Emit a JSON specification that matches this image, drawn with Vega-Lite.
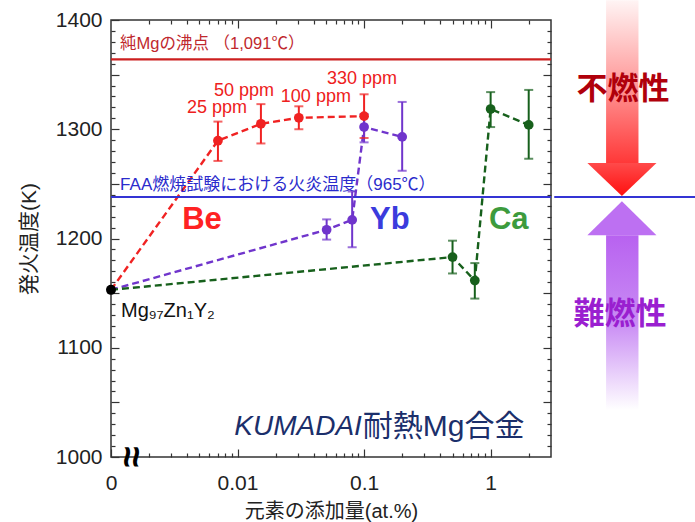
{
  "$schema": "https://vega.github.io/schema/vega-lite/v6.json",
  "padding": {"left": 17, "top": 0, "right": 0, "bottom": 0},
  "background": "white",
  "spacing": 0,
  "config": {
    "font": "'Liberation Sans', 'Noto Sans CJK JP', sans-serif",
    "view": {"stroke": null},
    "concat": {"spacing": 0}
  },
  "datasets": {
    "pts": [
      {"series": "Be", "x": 0.007, "y": 1289.5, "lo": 1271, "hi": 1307},
      {"series": "Be", "x": 0.0153, "y": 1305, "lo": 1287, "hi": 1323},
      {"series": "Be", "x": 0.0305, "y": 1310.5, "lo": 1300, "hi": 1321},
      {"series": "Be", "x": 0.1, "y": 1312, "lo": 1292, "hi": 1332},
      {"series": "Yb", "x": 0.0506, "y": 1208, "lo": 1199, "hi": 1217.5},
      {"series": "Yb", "x": 0.0805, "y": 1217, "lo": 1192, "hi": 1243},
      {"series": "Yb", "x": 0.1, "y": 1302, "lo": 1288, "hi": 1314},
      {"series": "Yb", "x": 0.2, "y": 1293, "lo": 1262, "hi": 1325},
      {"series": "Ca", "x": 0.5, "y": 1183, "lo": 1168, "hi": 1198},
      {"series": "Ca", "x": 0.75, "y": 1161.5, "lo": 1145, "hi": 1177.5},
      {"series": "Ca", "x": 1, "y": 1318.5, "lo": 1302, "hi": 1334},
      {"series": "Ca", "x": 2, "y": 1304, "lo": 1273, "hi": 1336}
    ],
    "lines": [
      {"series": "Be", "x": 0.001, "y": 1153},
      {"series": "Be", "x": 0.007, "y": 1289.5},
      {"series": "Be", "x": 0.0153, "y": 1305},
      {"series": "Be", "x": 0.0305, "y": 1310.5},
      {"series": "Be", "x": 0.1, "y": 1312},
      {"series": "Yb", "x": 0.001, "y": 1153},
      {"series": "Yb", "x": 0.0506, "y": 1208},
      {"series": "Yb", "x": 0.0805, "y": 1217},
      {"series": "Yb", "x": 0.1, "y": 1302},
      {"series": "Yb", "x": 0.2, "y": 1293},
      {"series": "Ca", "x": 0.001, "y": 1153},
      {"series": "Ca", "x": 0.5, "y": 1183},
      {"series": "Ca", "x": 0.75, "y": 1161.5},
      {"series": "Ca", "x": 1, "y": 1318.5},
      {"series": "Ca", "x": 2, "y": 1304}
    ],
    "base": [{"x": 0.001, "y": 1153, "label": "Mg₉₇Zn₁Y₂"}]
  },
  "hconcat": [
    {
      "width": 440,
      "height": 437,
      "view": {"stroke": "#333", "strokeWidth": 1.5},
      "resolve": {"axis": {"x": "independent", "y": "independent"}},
      "layer": [
        {
          "data": {"name": "lines"},
          "mark": {"type": "line", "strokeWidth": 2.4, "strokeDash": [7, 4]},
          "encoding": {
            "x": {
              "field": "x", "type": "quantitative",
              "scale": {"type": "log", "domain": [0.001, 3], "nice": false},
              "axis": {
                "orient": "bottom",
                "values": [0.001, 0.002, 0.003, 0.004, 0.005, 0.006, 0.007, 0.008, 0.009, 0.01, 0.02, 0.03, 0.04, 0.05, 0.06, 0.07, 0.08, 0.09, 0.1, 0.2, 0.3, 0.4, 0.5, 0.6, 0.7, 0.8, 0.9, 1, 2],
                "labelExpr": "datum.value == 0.001 ? '0' : datum.value == 0.01 ? '0.01' : datum.value == 0.1 ? '0.1' : datum.value == 1 ? '1' : ''",
                "tickSize": {"condition": {"test": "datum.value == 0.001 || datum.value == 0.01 || datum.value == 0.1 || datum.value == 1", "value": -8}, "value": -4},
                "tickColor": "#333", "tickWidth": 1.2,
                "domain": false, "grid": false,
                "labelFontSize": 21, "labelColor": "#222", "labelPadding": 23,
                "labelFlush": false, "labelOverlap": false,
                "title": "元素の添加量(at.%)", "titleFontSize": 20, "titleFontWeight": "normal", "titleColor": "#222", "titlePadding": 4
              }
            },
            "y": {
              "field": "y", "type": "quantitative",
              "scale": {"domain": [1000, 1400], "nice": false, "zero": false},
              "axis": {
                "orient": "left",
                "values": [1000, 1010, 1020, 1030, 1040, 1050, 1060, 1070, 1080, 1090, 1100, 1110, 1120, 1130, 1140, 1150, 1160, 1170, 1180, 1190, 1200, 1210, 1220, 1230, 1240, 1250, 1260, 1270, 1280, 1290, 1300, 1310, 1320, 1330, 1340, 1350, 1360, 1370, 1380, 1390, 1400],
                "labelExpr": "datum.value % 100 == 0 ? '' + datum.value : ''",
                "tickSize": {"condition": {"test": "datum.value % 50 == 0", "value": -8}, "value": -4},
                "tickColor": "#333", "tickWidth": 1.2,
                "domain": false, "grid": false,
                "labelFontSize": 21, "labelColor": "#222", "labelPadding": 17, "labelOverlap": false, "labelFlush": false,
                "title": "発火温度(K)", "titleFontSize": 21, "titleFontWeight": "normal", "titleColor": "#222", "titlePadding": 16
              }
            },
            "color": {"field": "series", "type": "nominal", "scale": {"domain": ["Be", "Yb", "Ca"], "range": ["#f02222", "#7035cc", "#17601c"]}, "legend": null},
            "detail": {"field": "series"}
          }
        },
        {
          "data": {"name": "base"},
          "mark": {"type": "point", "opacity": 0},
          "encoding": {
            "x": {
              "field": "x", "type": "quantitative",
              "scale": {"type": "log", "domain": [0.001, 3], "nice": false},
              "axis": {
                "orient": "top",
                "values": [0.002, 0.003, 0.004, 0.005, 0.006, 0.007, 0.008, 0.009, 0.01, 0.02, 0.03, 0.04, 0.05, 0.06, 0.07, 0.08, 0.09, 0.1, 0.2, 0.3, 0.4, 0.5, 0.6, 0.7, 0.8, 0.9, 1, 2],
                "labels": false, "title": null, "domain": false, "grid": false,
                "tickSize": {"condition": {"test": "datum.value == 0.01 || datum.value == 0.1 || datum.value == 1", "value": -8}, "value": -4},
                "tickColor": "#333", "tickWidth": 1.2
              }
            },
            "y": {
              "field": "y", "type": "quantitative",
              "scale": {"domain": [1000, 1400], "nice": false, "zero": false},
              "axis": {
                "orient": "right",
                "values": [1010, 1020, 1030, 1040, 1050, 1060, 1070, 1080, 1090, 1100, 1110, 1120, 1130, 1140, 1150, 1160, 1170, 1180, 1190, 1200, 1210, 1220, 1230, 1240, 1250, 1260, 1270, 1280, 1290, 1300, 1310, 1320, 1330, 1340, 1350, 1360, 1370, 1380, 1390],
                "labels": false, "title": null, "domain": false, "grid": false,
                "tickSize": {"condition": {"test": "datum.value % 50 == 0", "value": -8}, "value": -4},
                "tickColor": "#333", "tickWidth": 1.2
              }
            }
          }
        },
        {
          "data": {"values": [{"y": 1364}]},
          "mark": {"type": "rule", "color": "#cc1f1f", "strokeWidth": 2.2},
          "encoding": {
            "y": {"field": "y", "type": "quantitative", "scale": {"domain": [1000, 1400], "nice": false, "zero": false}, "axis": null}
          }
        },
        {
          "data": {"values": [{"y": 1238}]},
          "mark": {"type": "rule", "color": "#3434d4", "strokeWidth": 2},
          "encoding": {
            "y": {"field": "y", "type": "quantitative", "scale": {"domain": [1000, 1400], "nice": false, "zero": false}, "axis": null}
          }
        },
        {
          "data": {"values": [{"x": 0.00118, "y": 1378, "t": "純Mgの沸点 （1,091℃）"}]},
          "mark": {"type": "text", "align": "left", "baseline": "middle", "fontSize": 16.5, "color": "#c0282d"},
          "encoding": {
            "x": {"field": "x", "type": "quantitative", "scale": {"type": "log", "domain": [0.001, 3], "nice": false}, "axis": null},
            "y": {"field": "y", "type": "quantitative", "scale": {"domain": [1000, 1400], "nice": false, "zero": false}, "axis": null},
            "text": {"field": "t"}
          }
        },
        {
          "data": {"values": [{"x": 0.00118, "y": 1249, "t": "FAA燃焼試験における火炎温度（965℃）"}]},
          "mark": {"type": "text", "align": "left", "baseline": "middle", "fontSize": 17, "color": "#2b2bcc"},
          "encoding": {
            "x": {"field": "x", "type": "quantitative", "scale": {"type": "log", "domain": [0.001, 3], "nice": false}, "axis": null},
            "y": {"field": "y", "type": "quantitative", "scale": {"domain": [1000, 1400], "nice": false, "zero": false}, "axis": null},
            "text": {"field": "t"}
          }
        },
        {
          "data": {"name": "pts"},
          "mark": {"type": "rule", "strokeWidth": 2},
          "encoding": {
            "x": {"field": "x", "type": "quantitative", "scale": {"type": "log", "domain": [0.001, 3], "nice": false}, "axis": null},
            "y": {"field": "lo", "type": "quantitative", "scale": {"domain": [1000, 1400], "nice": false, "zero": false}, "axis": null},
            "y2": {"field": "hi"},
            "color": {"field": "series", "type": "nominal", "scale": {"domain": ["Be", "Yb", "Ca"], "range": ["#f02222", "#7035cc", "#17601c"]}, "legend": null}
          }
        },
        {
          "data": {"name": "pts"},
          "mark": {"type": "tick", "orient": "horizontal", "size": 9, "thickness": 2},
          "encoding": {
            "x": {"field": "x", "type": "quantitative", "scale": {"type": "log", "domain": [0.001, 3], "nice": false}, "axis": null},
            "y": {"field": "lo", "type": "quantitative", "scale": {"domain": [1000, 1400], "nice": false, "zero": false}, "axis": null},
            "color": {"field": "series", "type": "nominal", "scale": {"domain": ["Be", "Yb", "Ca"], "range": ["#f02222", "#7035cc", "#17601c"]}, "legend": null}
          }
        },
        {
          "data": {"name": "pts"},
          "mark": {"type": "tick", "orient": "horizontal", "size": 9, "thickness": 2},
          "encoding": {
            "x": {"field": "x", "type": "quantitative", "scale": {"type": "log", "domain": [0.001, 3], "nice": false}, "axis": null},
            "y": {"field": "hi", "type": "quantitative", "scale": {"domain": [1000, 1400], "nice": false, "zero": false}, "axis": null},
            "color": {"field": "series", "type": "nominal", "scale": {"domain": ["Be", "Yb", "Ca"], "range": ["#f02222", "#7035cc", "#17601c"]}, "legend": null}
          }
        },
        {
          "data": {"name": "pts"},
          "mark": {"type": "circle", "size": 95, "opacity": 1},
          "encoding": {
            "x": {"field": "x", "type": "quantitative", "scale": {"type": "log", "domain": [0.001, 3], "nice": false}, "axis": null},
            "y": {"field": "y", "type": "quantitative", "scale": {"domain": [1000, 1400], "nice": false, "zero": false}, "axis": null},
            "color": {"field": "series", "type": "nominal", "scale": {"domain": ["Be", "Yb", "Ca"], "range": ["#ff1c1c", "#6a2fd2", "#15651a"]}, "legend": null}
          }
        },
        {
          "data": {"name": "base"},
          "mark": {"type": "circle", "size": 100, "opacity": 1, "color": "#000", "clip": false},
          "encoding": {
            "x": {"field": "x", "type": "quantitative", "scale": {"type": "log", "domain": [0.001, 3], "nice": false}, "axis": null},
            "y": {"field": "y", "type": "quantitative", "scale": {"domain": [1000, 1400], "nice": false, "zero": false}, "axis": null}
          }
        },
        {
          "data": {"name": "base"},
          "mark": {"type": "text", "align": "left", "baseline": "middle", "fontSize": 20, "color": "#111", "dx": 10, "dy": 21},
          "encoding": {
            "x": {"field": "x", "type": "quantitative", "scale": {"type": "log", "domain": [0.001, 3], "nice": false}, "axis": null},
            "y": {"field": "y", "type": "quantitative", "scale": {"domain": [1000, 1400], "nice": false, "zero": false}, "axis": null},
            "text": {"field": "label"}
          }
        },
        {
          "data": {"values": [
            {"x": 0.00688, "y": 1319.5, "t": "25 ppm"},
            {"x": 0.01125, "y": 1335, "t": "50 ppm"},
            {"x": 0.0416, "y": 1329.5, "t": "100 ppm"},
            {"x": 0.0962, "y": 1346, "t": "330 ppm"}
          ]},
          "mark": {"type": "text", "align": "center", "baseline": "middle", "fontSize": 18, "color": "#ee2020"},
          "encoding": {
            "x": {"field": "x", "type": "quantitative", "scale": {"type": "log", "domain": [0.001, 3], "nice": false}, "axis": null},
            "y": {"field": "y", "type": "quantitative", "scale": {"domain": [1000, 1400], "nice": false, "zero": false}, "axis": null},
            "text": {"field": "t"}
          }
        },
        {
          "data": {"values": [{"x": 0.00524, "y": 1217, "t": "Be"}]},
          "mark": {"type": "text", "align": "center", "baseline": "middle", "fontSize": 31, "fontWeight": "bold", "color": "#ff2222"},
          "encoding": {
            "x": {"field": "x", "type": "quantitative", "scale": {"type": "log", "domain": [0.001, 3], "nice": false}, "axis": null},
            "y": {"field": "y", "type": "quantitative", "scale": {"domain": [1000, 1400], "nice": false, "zero": false}, "axis": null},
            "text": {"field": "t"}
          }
        },
        {
          "data": {"values": [{"x": 0.16, "y": 1217, "t": "Yb"}]},
          "mark": {"type": "text", "align": "center", "baseline": "middle", "fontSize": 31, "fontWeight": "bold", "color": "#3b3bdd"},
          "encoding": {
            "x": {"field": "x", "type": "quantitative", "scale": {"type": "log", "domain": [0.001, 3], "nice": false}, "axis": null},
            "y": {"field": "y", "type": "quantitative", "scale": {"domain": [1000, 1400], "nice": false, "zero": false}, "axis": null},
            "text": {"field": "t"}
          }
        },
        {
          "data": {"values": [{"x": 1.39, "y": 1217, "t": "Ca"}]},
          "mark": {"type": "text", "align": "center", "baseline": "middle", "fontSize": 31, "fontWeight": "bold", "color": "#3d9b3d"},
          "encoding": {
            "x": {"field": "x", "type": "quantitative", "scale": {"type": "log", "domain": [0.001, 3], "nice": false}, "axis": null},
            "y": {"field": "y", "type": "quantitative", "scale": {"domain": [1000, 1400], "nice": false, "zero": false}, "axis": null},
            "text": {"field": "t"}
          }
        },
        {
          "data": {"values": [{"x": 0.0978, "y": 1027.5, "t": "KUMADAI"}]},
          "mark": {"type": "text", "align": "right", "baseline": "middle", "fontSize": 28, "fontStyle": "italic", "color": "#1b2f6b", "dx": -1},
          "encoding": {
            "x": {"field": "x", "type": "quantitative", "scale": {"type": "log", "domain": [0.001, 3], "nice": false}, "axis": null},
            "y": {"field": "y", "type": "quantitative", "scale": {"domain": [1000, 1400], "nice": false, "zero": false}, "axis": null},
            "text": {"field": "t"}
          }
        },
        {
          "data": {"values": [{"x": 0.0978, "y": 1027.5, "t": "耐熱Mg合金"}]},
          "mark": {"type": "text", "align": "left", "baseline": "middle", "fontSize": 30, "color": "#1b2f6b"},
          "encoding": {
            "x": {"field": "x", "type": "quantitative", "scale": {"type": "log", "domain": [0.001, 3], "nice": false}, "axis": null},
            "y": {"field": "y", "type": "quantitative", "scale": {"domain": [1000, 1400], "nice": false, "zero": false}, "axis": null},
            "text": {"field": "t"}
          }
        },
        {
          "data": {"values": [{"x": 0.00141, "y": 1000, "t": "≈"}]},
          "mark": {"type": "text", "align": "center", "baseline": "middle", "fontSize": 38, "fontWeight": "bold", "angle": 90, "color": "#000", "clip": false},
          "encoding": {
            "x": {"field": "x", "type": "quantitative", "scale": {"type": "log", "domain": [0.001, 3], "nice": false}, "axis": null},
            "y": {"field": "y", "type": "quantitative", "scale": {"domain": [1000, 1400], "nice": false, "zero": false}, "axis": null},
            "text": {"field": "t"}
          }
        }
      ]
    },
    {
      "width": 144,
      "height": 437,
      "layer": [
        {
          "data": {"values": [{"x": 0.32, "x2": 0.545, "y": 1418, "y2": 1269}]},
          "mark": {"type": "rect", "clip": false, "fill": {"gradient": "linear", "x1": 0, "y1": 0, "x2": 0, "y2": 1, "stops": [{"offset": 0, "color": "#fff4f4"}, {"offset": 0.5, "color": "#ff9c9c"}, {"offset": 1, "color": "#ff3838"}]}},
          "encoding": {
            "x": {"field": "x", "type": "quantitative", "scale": {"domain": [0, 1]}, "axis": null},
            "x2": {"field": "x2"},
            "y": {"field": "y", "type": "quantitative", "scale": {"domain": [1000, 1400], "nice": false, "zero": false}, "axis": null},
            "y2": {"field": "y2"}
          }
        },
        {
          "data": {"values": [{"x": 0.19, "yt": 1269, "yb": 1269}, {"x": 0.43, "yt": 1269, "yb": 1239}, {"x": 0.67, "yt": 1269, "yb": 1269}]},
          "mark": {"type": "area", "clip": false, "fill": {"gradient": "linear", "x1": 0, "y1": 0, "x2": 0, "y2": 1, "stops": [{"offset": 0, "color": "#ff4a4a"}, {"offset": 1, "color": "#ff1010"}]}},
          "encoding": {
            "x": {"field": "x", "type": "quantitative", "scale": {"domain": [0, 1]}, "axis": null},
            "y": {"field": "yt", "type": "quantitative", "scale": {"domain": [1000, 1400], "nice": false, "zero": false}, "axis": null},
            "y2": {"field": "yb"}
          }
        },
        {
          "data": {"values": [{"x": 0.19, "yt": 1203, "yb": 1203}, {"x": 0.43, "yt": 1234, "yb": 1203}, {"x": 0.67, "yt": 1203, "yb": 1203}]},
          "mark": {"type": "area", "clip": false, "fill": "#bd70f2"},
          "encoding": {
            "x": {"field": "x", "type": "quantitative", "scale": {"domain": [0, 1]}, "axis": null},
            "y": {"field": "yt", "type": "quantitative", "scale": {"domain": [1000, 1400], "nice": false, "zero": false}, "axis": null},
            "y2": {"field": "yb"}
          }
        },
        {
          "data": {"values": [{"x": 0.32, "x2": 0.545, "y": 1203, "y2": 1043}]},
          "mark": {"type": "rect", "clip": false, "fill": {"gradient": "linear", "x1": 0, "y1": 0, "x2": 0, "y2": 1, "stops": [{"offset": 0, "color": "#b862f0"}, {"offset": 0.5, "color": "#c98cf4"}, {"offset": 1, "color": "#ffffff"}]}},
          "encoding": {
            "x": {"field": "x", "type": "quantitative", "scale": {"domain": [0, 1]}, "axis": null},
            "x2": {"field": "x2"},
            "y": {"field": "y", "type": "quantitative", "scale": {"domain": [1000, 1400], "nice": false, "zero": false}, "axis": null},
            "y2": {"field": "y2"}
          }
        },
        {
          "data": {"values": [{"x": 0.4375, "y": 1336, "t": "不燃性"}]},
          "mark": {"type": "text", "align": "center", "baseline": "middle", "fontSize": 31, "fontWeight": "bold", "color": "#b0000b", "clip": false},
          "encoding": {
            "x": {"field": "x", "type": "quantitative", "scale": {"domain": [0, 1]}, "axis": null},
            "y": {"field": "y", "type": "quantitative", "scale": {"domain": [1000, 1400], "nice": false, "zero": false}, "axis": null},
            "text": {"field": "t"}
          }
        },
        {
          "data": {"values": [{"x": 0.417, "y": 1130, "t": "難燃性"}]},
          "mark": {"type": "text", "align": "center", "baseline": "middle", "fontSize": 31, "fontWeight": "bold", "color": "#9a1fd0", "clip": false},
          "encoding": {
            "x": {"field": "x", "type": "quantitative", "scale": {"domain": [0, 1]}, "axis": null},
            "y": {"field": "y", "type": "quantitative", "scale": {"domain": [1000, 1400], "nice": false, "zero": false}, "axis": null},
            "text": {"field": "t"}
          }
        },
        {
          "data": {"values": [{"x": -0.04, "x2": 1, "y": 1238}]},
          "mark": {"type": "rule", "color": "#3434d4", "strokeWidth": 2, "clip": false},
          "encoding": {
            "x": {"field": "x", "type": "quantitative", "scale": {"domain": [0, 1]}, "axis": null},
            "x2": {"field": "x2"},
            "y": {"field": "y", "type": "quantitative", "scale": {"domain": [1000, 1400], "nice": false, "zero": false}, "axis": null}
          }
        }
      ]
    }
  ]
}
